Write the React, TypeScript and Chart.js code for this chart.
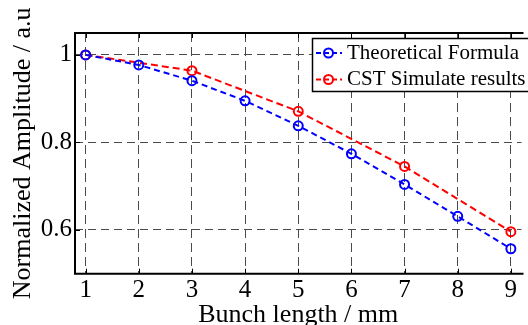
import React, { useEffect, useRef } from "react";
import { Chart, registerables } from "chart.js";

Chart.register(...registerables);

const xTicks = [1, 2, 3, 4, 5, 6, 7, 8, 9];
const yTicks = [0.6, 0.8, 1];
const theoreticalX = [1, 2, 3, 4, 5, 6, 7, 8, 9];
const theoreticalY = [1.0, 0.977, 0.941, 0.895, 0.838, 0.774, 0.704, 0.631, 0.557];
const cstX = [1, 3, 5, 7, 9];
const cstY = [1.0, 0.964, 0.871, 0.745, 0.596];
const seriesLabels = ["Theoretical Formula", "CST Simulate results"];
const xTitle = "Bunch length / mm";
const yTitle = "Normalized Amplitude / a.u";

const FONT = "'Liberation Serif', 'Times New Roman', serif";

const framePlugin = {
  id: "frameTicks",
  afterDraw(chart: any) {
    const { ctx, chartArea, scales } = chart;
    const xs = scales.x;
    const ys = scales.y;
    ctx.save();
    ctx.strokeStyle = "#000";
    ctx.lineWidth = 2;
    ctx.setLineDash([]);
    // frame: top, left, bottom
    ctx.beginPath();
    ctx.moveTo(chartArea.right + 2, chartArea.top);
    ctx.lineTo(chartArea.left, chartArea.top);
    ctx.lineTo(chartArea.left, chartArea.bottom);
    ctx.lineTo(chartArea.right + 2, chartArea.bottom);
    ctx.stroke();
    ctx.lineWidth = 1;
    const tl = 5;
    xs.ticks.forEach((t: any) => {
      const px = Math.round(xs.getPixelForValue(t.value)) + 0.5;
      ctx.beginPath();
      ctx.moveTo(px, chartArea.top);
      ctx.lineTo(px, chartArea.top + tl);
      ctx.moveTo(px, chartArea.bottom);
      ctx.lineTo(px, chartArea.bottom - tl);
      ctx.stroke();
    });
    ys.ticks.forEach((t: any) => {
      const py = Math.round(ys.getPixelForValue(t.value)) + 0.5;
      ctx.beginPath();
      ctx.moveTo(chartArea.left, py);
      ctx.lineTo(chartArea.left + tl, py);
      ctx.stroke();
    });

    // legend
    const bx = 312.5;
    const by = 38.5;
    const bw = 240;
    const bh = 53;
    ctx.fillStyle = "#fff";
    ctx.fillRect(bx, by, bw, bh);
    ctx.strokeStyle = "#000";
    ctx.lineWidth = 1.5;
    ctx.strokeRect(bx, by, bw, bh);
    chart.data.datasets.forEach((ds: any, i: number) => {
      const cy = 53 + i * 26.5;
      ctx.strokeStyle = ds.borderColor;
      ctx.lineWidth = 2;
      ctx.setLineDash([5, 3]);
      ctx.beginPath();
      ctx.moveTo(316, cy);
      ctx.lineTo(342, cy);
      ctx.stroke();
      ctx.setLineDash([]);
      ctx.beginPath();
      ctx.arc(328.5, cy, 4.5, 0, Math.PI * 2);
      ctx.stroke();
      ctx.fillStyle = "#000";
      ctx.font = `21px ${FONT}`;
      ctx.textBaseline = "middle";
      ctx.textAlign = "left";
      ctx.fillText(ds.label, 347, cy);
    });
    ctx.restore();
  },
};

export default function App() {
  const ref = useRef<HTMLCanvasElement | null>(null);
  useEffect(() => {
    if (!ref.current) return;
    const chart = new Chart(ref.current, {
      type: "line",
      data: {
        datasets: [
          {
            label: seriesLabels[0],
            data: theoreticalX.map((x, i) => ({ x, y: theoreticalY[i] })),
            borderColor: "#0000ff",
            backgroundColor: "rgba(0,0,0,0)",
            borderWidth: 2,
            borderDash: [6, 4],
            pointRadius: 4.5,
            pointBorderWidth: 2,
            pointBorderColor: "#0000ff",
            pointBackgroundColor: "rgba(0,0,0,0)",
            tension: 0,
          },
          {
            label: seriesLabels[1],
            data: cstX.map((x, i) => ({ x, y: cstY[i] })),
            borderColor: "#ff0000",
            backgroundColor: "rgba(0,0,0,0)",
            borderWidth: 2,
            borderDash: [7, 4],
            pointRadius: 4.5,
            pointBorderWidth: 2,
            pointBorderColor: "#ff0000",
            pointBackgroundColor: "rgba(0,0,0,0)",
            tension: 0,
          },
        ],
      },
      options: {
        animation: false,
        responsive: false,
        layout: { padding: { top: 33, left: 0, right: 0, bottom: 0 } },
        plugins: { legend: { display: false }, tooltip: { enabled: false } },
        scales: {
          x: {
            type: "linear",
            min: 0.8,
            max: 9.2,
            afterBuildTicks: (s: any) => {
              s.ticks = xTicks.map((v) => ({ value: v }));
            },
            afterFit: (s: any) => {
              s.height = 51.3;
            },
            grid: {
              color: "#4a4a4a",
              lineWidth: 1,
              drawTicks: false,
            },
            border: { display: false, dash: [9, 5] },
            ticks: {
              color: "#000",
              font: { family: FONT, size: 25 },
              padding: 2,
              maxRotation: 0,
              autoSkip: false,
              callback: (v: any) => String(v),
            },
            title: {
              display: true,
              text: xTitle,
              color: "#000",
              font: { family: FONT, size: 26, lineHeight: 1 },
              padding: { top: 0, bottom: -3 },
            },
          },
          y: {
            type: "linear",
            min: 0.5,
            max: 1.05,
            afterBuildTicks: (s: any) => {
              s.ticks = yTicks.map((v) => ({ value: v }));
            },
            afterFit: (s: any) => {
              s.width = 75;
            },
            grid: {
              color: "#4a4a4a",
              lineWidth: 1,
              drawTicks: false,
            },
            border: { display: false, dash: [8, 5] },
            ticks: {
              color: "#000",
              font: { family: FONT, size: 25 },
              padding: 3,
              callback: (v: any) => String(v),
            },
            title: {
              display: true,
              text: yTitle,
              color: "#000",
              font: { family: FONT, size: 26, lineHeight: 1 },
              padding: { top: 10, bottom: 0 },
            },
          },
        },
      },
      plugins: [framePlugin],
    } as any);
    return () => chart.destroy();
  }, []);
  return (
    <div style={{ position: "absolute", left: 0, top: 0, width: 528, height: 325 }}>
      <canvas ref={ref} width={528} height={325} />
    </div>
  );
}
